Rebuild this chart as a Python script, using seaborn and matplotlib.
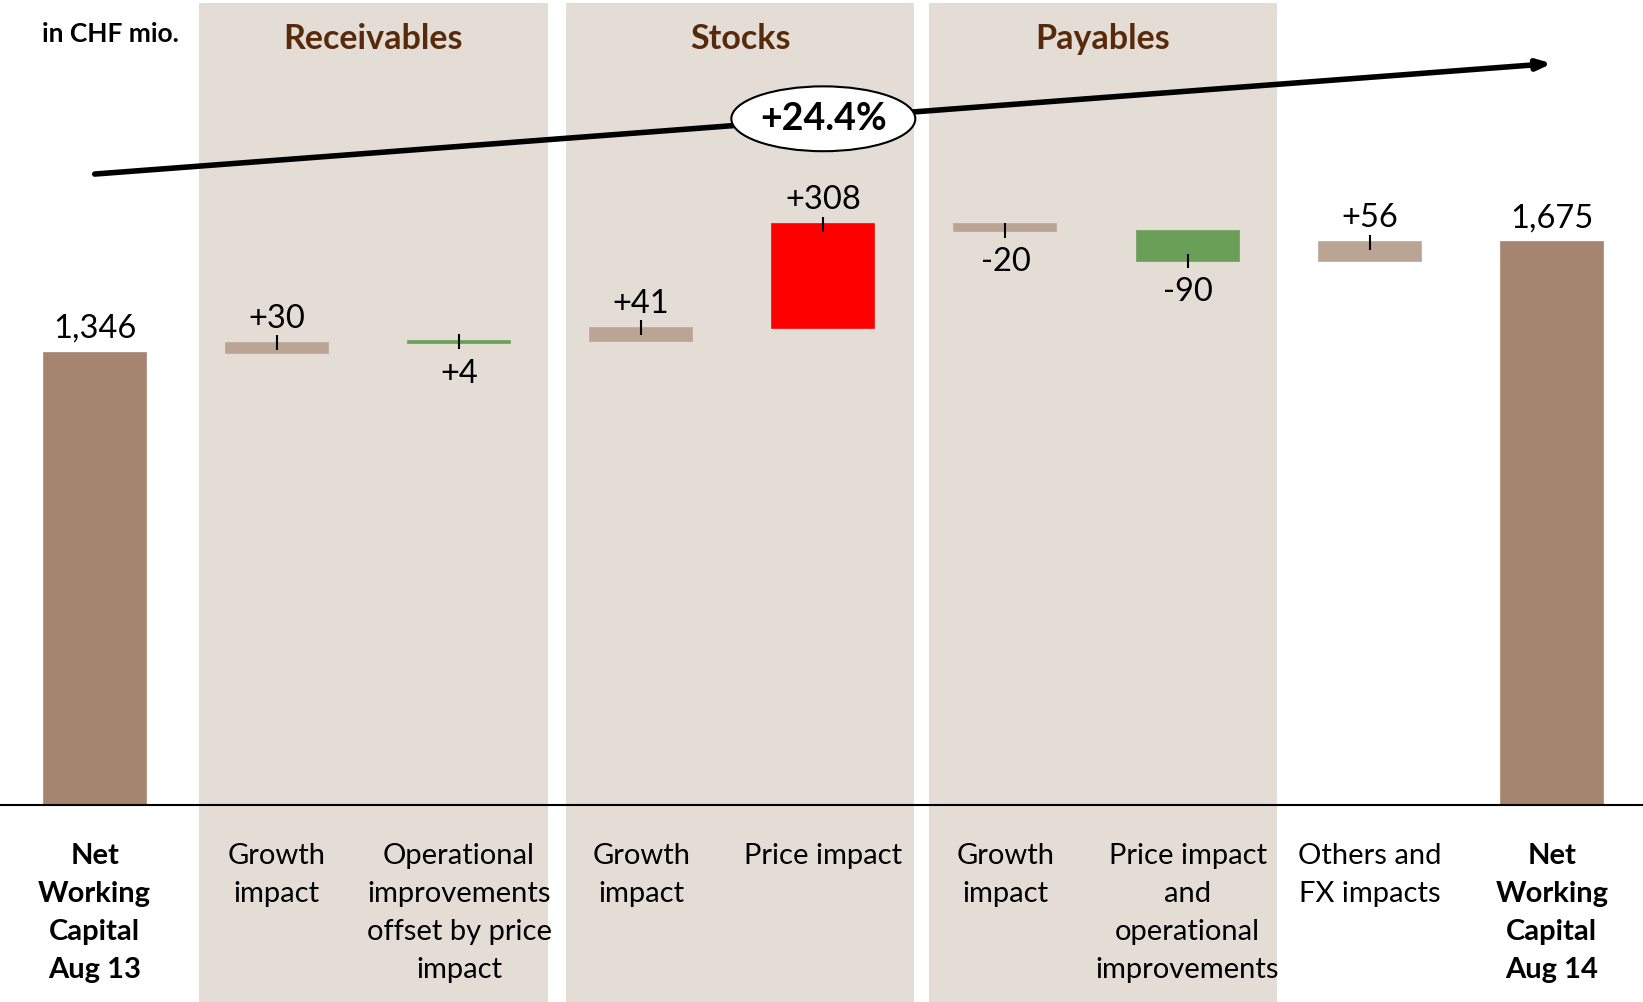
import numpy as np
import pandas as pd
import seaborn as sns
import matplotlib.pyplot as plt
from matplotlib.patches import Ellipse

# waterfall steps (CHF mio.)
steps = ["start", "rec_growth", "rec_ops", "stk_growth", "stk_price",
         "pay_growth", "pay_price", "others", "end"]
deltas = [1346, 30, 4, 41, 308, -20, -90, 56, 1675]
value_labels = ["1,346", "+30", "+4", "+41", "+308", "-20", "-90", "+56", "1,675"]
categories = ["Net\nWorking\nCapital\nAug 13", "Growth\nimpact",
              "Operational\nimprovements\noffset by price\nimpact",
              "Growth\nimpact", "Price impact", "Growth\nimpact",
              "Price impact\nand\noperational\nimprovements",
              "Others and\nFX impacts", "Net\nWorking\nCapital\nAug 14"]
groups = ["Receivables", "Stocks", "Payables"]
growth_label = "+24.4%"

bar_colors = ["#A58470", "#BAA594", "#6A9F58", "#BAA594", "#FF0000",
              "#BAA594", "#6A9F58", "#BAA594", "#A58470"]
label_below = [False, False, True, False, False, True, True, False, False]

# running totals
ends, bottoms, heights = [], [], []
level = 0
for i, d in enumerate(deltas):
    if i == 0 or i == len(deltas) - 1:
        bottoms.append(0)
        heights.append(d)
        level = d
    else:
        new = level + d
        bottoms.append(min(level, new))
        heights.append(abs(d))
        level = new
    ends.append(level)

df = pd.DataFrame({"step": steps, "height": heights})

plt.rcParams["font.family"] = ["Lato", "DejaVu Sans"]
fig = plt.figure(figsize=(16.43, 10.02), dpi=100)
ax = fig.add_axes([0, 0, 1, 1])

sns.barplot(data=df, x="step", y="height", order=steps, width=0.56,
            errorbar=None, color="#BAA594", saturation=1, bottom=bottoms,
            ax=ax, zorder=3)
for patch, c in zip(ax.containers[0], bar_colors):
    patch.set_facecolor(c)
    patch.set_edgecolor(c)
    patch.set_linewidth(1.2)

ax.set_xlim(-0.52, 8.5)
ax.set_ylim(-586, 2396)

# shaded groups
bands = [(0.57, 2.49), (2.59, 4.50), (4.58, 6.49)]
for (x0, x1), g in zip(bands, groups):
    ax.axvspan(x0, x1, ymin=0, ymax=0.997, color="#E3DDD6", zorder=0, lw=0)
    ax.text((x0 + x1) / 2, 2280, g, ha="center", va="center", fontsize=24.5,
            fontweight="bold", color="#582A0C")

ax.text(0.088, 2295, "in CHF mio.", ha="center", va="center", fontsize=19,
        fontweight="bold", color="black")

# small markers at end values and value labels
for i in range(len(steps)):
    if 0 < i < len(steps) - 1:
        ax.vlines(i, ends[i] - 22, ends[i] + 22, color="black", lw=1.5, zorder=4)
    top = bottoms[i] + heights[i]
    if label_below[i]:
        ax.text(i, bottoms[i] - 92, value_labels[i], ha="center", va="center",
                fontsize=23.5, zorder=5)
    else:
        ax.text(i, top + 71, value_labels[i], ha="center", va="center",
                fontsize=23.5, zorder=5)

# overall growth arrow
y0 = deltas[0] + 532
y1 = deltas[-1] + 532
ax.annotate("", xy=(8, y1), xytext=(0, y0),
            arrowprops=dict(arrowstyle="-|>,head_length=0.8,head_width=0.3",
                            lw=4, color="black", shrinkA=0, shrinkB=0),
            zorder=6)
ym = (y0 + y1) / 2
ax.add_patch(Ellipse((4, ym), 1.01, 193, facecolor="white", edgecolor="black",
                     lw=1.5, zorder=7))
ax.text(4, ym, growth_label, ha="center", va="center", fontsize=27,
        fontweight="bold", zorder=8)

# axis styling
for s in ["top", "left", "right"]:
    ax.spines[s].set_visible(False)
ax.spines["bottom"].set_position(("data", 0))
ax.spines["bottom"].set_linewidth(1.5)
ax.spines["bottom"].set_zorder(5)
ax.set_yticks([])
ax.set_xticks(range(len(steps)))
ax.set_xticklabels(categories, fontsize=21, linespacing=1.57)
ax.tick_params(axis="x", length=0, pad=27.5)
for idx in (0, len(steps) - 1):
    ax.get_xticklabels()[idx].set_fontweight("bold")
ax.set_xlabel("")
ax.set_ylabel("")
ax.patch.set_facecolor("white")

fig.savefig("out.png", dpi=100)
